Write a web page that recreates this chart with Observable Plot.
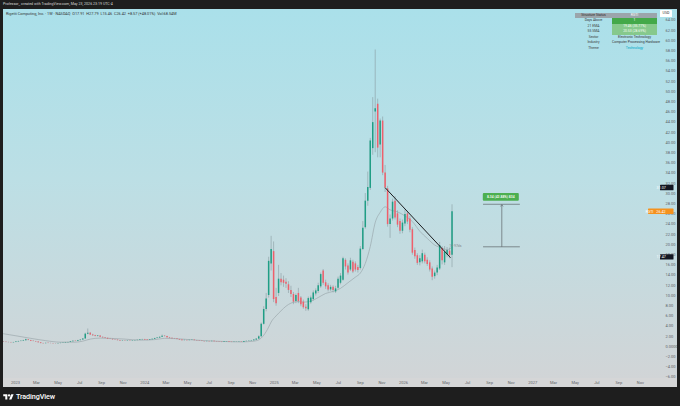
<!DOCTYPE html>
<html><head><meta charset="utf-8">
<script src="https://cdn.jsdelivr.net/npm/d3@7"></script>
<script src="https://cdn.jsdelivr.net/npm/@observablehq/plot@0.6"></script>
<style>
html,body{margin:0;padding:0;}
body{width:680px;height:406px;overflow:hidden;background:#1e1e1e;position:relative;font-family:Roboto,"DejaVu Sans",sans-serif;}
#banner{position:absolute;left:3px;top:1.6px;font-size:3.6px;line-height:4px;color:#d9d9d9;white-space:nowrap;}
#pane{position:absolute;left:3px;top:9px;width:674px;height:378px;background:linear-gradient(to bottom,#aae0ea 0%,#bcdfe5 45%,#d2d4d6 100%);overflow:hidden;}
#xstrip{position:absolute;left:0;top:369px;width:674px;height:9px;background:#d5d6d7;}
#plot{position:absolute;left:0;top:0;}
#title{position:absolute;left:3px;top:3px;font-size:3.8px;line-height:4px;color:#333;white-space:nowrap;}
#usd{position:absolute;left:657px;top:1.2px;width:12px;height:6.5px;background:#fff;color:#333;font-size:3.6px;line-height:6.5px;text-align:center;border-radius:0.6px;}
#table{position:absolute;left:572px;top:3.8px;width:82px;font-size:3.4px;}
#table .row{display:flex;height:5.5px;line-height:5.5px;}
#table .l{width:37px;text-align:center;color:#3a3a3a;}
#table .r{width:45px;text-align:center;color:#333;white-space:nowrap;}
#logo{position:absolute;left:3px;top:392px;height:8px;display:flex;align-items:center;color:#fff;font-size:7.2px;font-weight:500;letter-spacing:-0.1px;}
</style></head>
<body>
<div id="banner">Professor_ created with TradingView.com, May 23, 2026 23:19 UTC-4</div>
<div id="pane">
  <div id="xstrip"></div>
  <div id="plot"></div>
  <div id="title">Rigetti Computing, Inc. · 1W · NASDAQ &nbsp;O17.91 &nbsp;H27.79 &nbsp;L15.46 &nbsp;C26.42 &nbsp;+8.57 (+48.01%) &nbsp;Vol:68.54M</div>
  <div id="usd">USD</div>
  <div id="table"></div>
</div>
<div id="logo"><svg width="11" height="7" viewBox="0 0 36 24" style="margin-right:2px"><path d="M14 22H7V11H0V4h14v18z" fill="#fff"/><path d="M28 22h-8l7.5-18h8L28 22z" fill="#fff"/><circle cx="20" cy="8" r="4" fill="#fff"/></svg>TradingView</div>
<script>
// ---- Weekly RGTI candles (week index 0 = 2022-11-28) ----
const opens = [0.90,0.82,0.79,0.76,0.72,0.78,0.90,0.98,1.05,1.15,1.30,1.18,1.05,0.96,0.88,0.72,0.58,0.55,0.62,0.60,
0.57,0.54,0.52,0.57,0.62,0.68,0.75,0.80,0.92,1.05,0.99,1.15,1.26,1.48,2.42,2.62,2.25,2.10,1.95,2.06,
1.80,1.70,1.60,1.45,1.40,1.30,1.25,1.15,1.05,1.10,1.04,1.10,1.05,1.11,1.16,1.21,1.31,1.36,1.25,1.20,
1.30,1.40,1.55,1.65,1.80,2.02,1.95,1.70,1.60,1.50,1.46,1.35,1.25,1.15,1.20,1.15,1.21,1.25,1.15,1.10,
1.05,1.00,0.95,1.00,0.95,1.01,0.95,0.90,0.85,0.80,0.86,0.91,0.85,0.80,0.83,0.86,0.91,0.85,0.96,1.01,
1.06,1.12,1.26,1.45,1.90,4.35,7.25,10.00,16.20,18.60,9.60,10.40,13.20,13.00,12.60,12.10,11.00,10.20,8.80,10.40,
9.50,8.70,7.70,7.20,8.60,9.20,10.30,10.80,11.70,14.80,12.50,11.90,11.10,11.60,10.70,11.40,12.40,13.00,16.90,15.80,
15.00,16.50,16.20,15.50,15.30,19.00,23.30,28.50,31.00,38.80,46.00,47.50,39.50,44.20,34.00,30.90,23.90,25.00,28.50,26.00,
24.50,22.60,24.00,26.00,25.00,22.90,18.80,17.80,16.40,16.60,17.90,16.90,16.40,15.20,13.70,14.40,15.20,19.20,16.40,18.00,
18.70,17.91];
const highs = [0.98,0.88,0.86,0.80,0.82,0.95,1.05,1.12,1.22,1.45,1.38,1.22,1.10,1.00,0.90,0.75,0.64,0.66,0.68,0.63,
0.60,0.58,0.60,0.65,0.72,0.80,0.85,0.98,1.12,1.10,1.20,1.32,1.55,2.60,3.43,2.75,2.40,2.20,2.15,2.10,
1.86,1.76,1.63,1.52,1.45,1.36,1.28,1.18,1.16,1.14,1.15,1.13,1.15,1.20,1.25,1.36,1.42,1.40,1.30,1.35,
1.45,1.62,1.72,1.88,2.25,2.12,2.00,1.78,1.65,1.58,1.50,1.40,1.28,1.25,1.24,1.26,1.30,1.28,1.18,1.13,
1.08,1.03,1.05,1.03,1.06,1.04,0.98,0.93,0.88,0.90,0.95,0.94,0.88,0.86,0.90,0.95,0.94,1.00,1.06,1.12,
1.18,1.32,1.52,2.10,4.60,7.80,10.40,17.50,21.60,20.50,11.40,15.90,14.30,13.80,13.30,12.70,11.80,10.60,10.30,11.40,
9.80,9.10,8.20,9.70,9.90,10.90,11.30,12.40,14.40,15.10,13.00,12.30,12.00,11.90,11.80,13.60,14.30,17.50,17.20,16.20,
17.30,16.90,16.60,15.90,19.60,24.50,30.00,34.20,40.80,48.80,58.15,48.50,44.60,45.00,35.50,31.40,25.80,28.90,29.40,26.60,
25.00,24.80,26.80,26.50,25.50,23.30,19.30,18.20,17.80,18.90,18.30,17.40,16.80,15.60,14.80,15.90,20.40,19.60,19.60,19.40,
19.30,27.79];
const lows = [0.78,0.74,0.72,0.68,0.70,0.75,0.86,0.92,1.00,1.10,1.12,1.00,0.92,0.85,0.68,0.52,0.50,0.53,0.56,0.54,
0.51,0.48,0.50,0.55,0.60,0.66,0.72,0.78,0.90,0.95,0.97,1.10,1.22,1.45,2.30,2.15,2.00,1.88,1.90,1.75,
1.62,1.55,1.40,1.35,1.25,1.20,1.10,1.00,1.00,1.00,1.02,1.00,1.03,1.07,1.12,1.18,1.26,1.20,1.14,1.17,
1.26,1.36,1.50,1.60,1.76,1.88,1.65,1.55,1.45,1.40,1.30,1.20,1.10,1.12,1.10,1.12,1.17,1.12,1.05,1.00,
0.96,0.90,0.93,0.90,0.93,0.92,0.86,0.80,0.75,0.78,0.84,0.82,0.76,0.77,0.80,0.84,0.82,0.83,0.92,0.98,
1.02,1.08,1.20,1.40,1.85,4.20,6.80,9.50,14.80,8.60,7.90,9.80,11.90,11.60,11.40,10.40,9.60,8.20,8.40,8.40,
7.80,7.30,6.90,6.90,8.30,8.90,9.90,10.40,11.40,12.00,11.20,10.70,10.80,10.50,10.40,11.20,12.10,12.80,15.00,14.00,
14.70,14.30,14.60,14.40,15.00,18.80,23.00,27.50,30.60,37.50,38.00,37.00,37.00,33.50,30.20,23.40,21.20,24.60,24.80,23.30,
22.00,22.10,23.50,23.90,22.30,17.90,17.10,15.90,15.80,16.20,16.20,15.70,14.60,12.90,13.20,13.90,14.90,16.00,15.90,17.40,
17.20,15.46];
const closes = [0.82,0.78,0.76,0.72,0.78,0.90,0.98,1.05,1.15,1.30,1.18,1.05,0.96,0.88,0.72,0.58,0.55,0.62,0.60,0.57,
0.54,0.52,0.57,0.62,0.68,0.75,0.80,0.92,1.05,0.99,1.15,1.26,1.48,2.42,2.62,2.25,2.10,1.95,2.06,1.80,
1.70,1.60,1.45,1.40,1.30,1.25,1.15,1.05,1.10,1.04,1.10,1.05,1.11,1.16,1.21,1.31,1.36,1.25,1.20,1.30,
1.40,1.55,1.65,1.80,2.02,1.95,1.70,1.60,1.50,1.46,1.35,1.25,1.15,1.20,1.15,1.21,1.25,1.15,1.10,1.05,
1.00,0.95,1.00,0.95,1.01,0.95,0.90,0.85,0.80,0.86,0.91,0.85,0.80,0.83,0.86,0.91,0.85,0.96,1.01,1.06,
1.12,1.26,1.45,1.90,4.35,7.25,9.30,16.70,19.00,9.20,8.40,13.20,12.50,12.40,12.20,11.00,10.20,8.70,10.00,8.80,
8.20,7.60,7.40,9.40,9.50,10.50,10.90,11.90,14.10,12.40,11.70,11.10,11.60,11.00,11.30,13.20,13.80,17.20,15.60,14.40,
16.80,14.60,15.00,14.90,19.10,23.20,28.50,31.20,40.30,43.90,46.60,38.90,44.20,34.00,31.10,23.90,25.00,28.30,25.20,23.80,
22.60,24.20,25.90,24.40,22.80,18.30,17.60,16.30,17.20,18.20,16.60,16.10,15.00,13.60,14.40,15.40,19.80,16.80,18.50,18.80,
17.85,26.42];

// 21-week EMA (at selected weeks)
const maWeek  = [0,5,11,17,23,29,32,35,39,43,49,55,61,65,69,75,81,88,96,101,103,105,107,108,110,112,114,116,119,121,124,127,130,133,136,139,142,144,146,148,150,152,154,156,159,162,165,168,171,174,177,179,181];
const maValue = [2.5,2.1,1.6,1.15,0.85,0.85,1.05,1.45,1.65,1.6,1.45,1.25,1.35,1.6,1.55,1.35,1.15,1.0,0.9,1.05,1.3,2.2,3.8,4.8,6.0,7.0,7.9,8.5,8.8,8.7,8.9,9.6,10.4,10.8,11.4,12.5,13.6,14.4,16.3,19.6,24.3,26.3,27.4,26.8,26.4,25.6,24.5,22.6,21.2,19.9,19.3,19.0,19.46];

// Trend line drawn on the chart
const trendDates  = ["2025-11-11","2026-05-13"];
const trendPrices = [31.07, 17.47];

// Measure annotation
const measureDates  = ["2026-08-15","2026-10-07","2026-11-27"];
const measurePrices = [27.79, 19.45];
const measureLabel  = "8.34 (42.88%) 834";
const noteDate = "2026-05-29", notePrice = 19.7, noteText = "1+ 97ds";

// Axis price tags
const tagLabels = ["31.07","RGTI","17.47"];
const tagValues = [31.07, 26.42, 17.47];
const tagTexts  = ["31.07","26.42","17.47"];

// Table
const tableLabels = ["Structure Status","Days Above","21 EMA","55 SMA","Sector","Industry","Theme"];
const tableValues = ["RGTI","1","19.46 (35.77%)","20.53 (28.69%)","Electronic Technology","Computer Processing Hardware","Technology"];

const yTicks = d3.range(-6, 65, 2);

const UP = "#1f9e85", DOWN = "#ef5f6b";
const weekStart = Date.UTC(2022, 10, 28);
const candles = closes.map((c, i) => ({
  date: new Date(weekStart + i * 7 * 864e5),
  open: opens[i], high: highs[i], low: lows[i], close: c
}));
const ma = maWeek.map((w, i) => ({date: new Date(weekStart + w * 7 * 864e5), value: maValue[i]}));
const trend = trendDates.map((d, i) => ({date: new Date(d), price: trendPrices[i]}));

const xStart = new Date(Date.UTC(2022, 10, 28));
const xEnd = new Date(Date.UTC(2027, 11, 19, 10));
const xTicks = d3.utcMonth.every(2).range(new Date(Date.UTC(2023,0,1)), new Date(Date.UTC(2027,11,2)));
const fmtX = d => d.getUTCMonth() === 0 ? String(d.getUTCFullYear()) : d3.utcFormat("%b")(d);
const fmtY = v => v === 0 ? "0.0000" : (v < 0 ? "\u2212" + (-v).toFixed(2) : v.toFixed(2));

function measureMark(index, scales) {
  const x = scales.x, y = scales.y;
  const g = d3.create("svg:g");
  const xa = x(new Date(measureDates[0])), xm = x(new Date(measureDates[1])), xb = x(new Date(measureDates[2]));
  const yt = y(measurePrices[0]), yb = y(measurePrices[1]);
  const ln = (x1,y1,x2,y2) => g.append("line").attr("x1",x1).attr("y1",y1).attr("x2",x2).attr("y2",y2)
      .attr("stroke","#5f6569").attr("stroke-width",0.7);
  ln(xa, yt, xb, yt); ln(xa, yb, xb, yb); ln(xm, yb, xm, yt + 0.5);
  g.append("path").attr("d", `M${xm-1.3},${yt+2.2}L${xm},${yt+0.3}L${xm+1.3},${yt+2.2}`)
   .attr("fill","none").attr("stroke","#5f6569").attr("stroke-width",0.6);
  g.append("rect").attr("x", xm - 19).attr("y", yt - 11.2).attr("width", 36).attr("height", 7.6)
   .attr("rx", 1).attr("fill", "#4caf50");
  g.append("text").attr("x", xm - 1).attr("y", yt - 7.4).attr("dy","0.35em").attr("text-anchor","middle")
   .attr("font-size", 3.4).attr("fill","#fff").attr("font-weight",500).text(measureLabel);
  g.append("text").attr("x", x(new Date(noteDate))).attr("y", y(notePrice)).attr("dy","0.35em")
   .attr("font-size", 3.4).attr("fill","#7d8589").text(noteText);
  return g.node();
}

function tagMark(index, scales, values, dims) {
  const y = scales.y;
  const x0 = dims.width - dims.marginRight;
  const g = d3.create("svg:g").attr("font-size", 3.7);
  tagValues.forEach((v, i) => {
    const yy = y(v);
    if (tagLabels[i] === "RGTI") {
      g.append("rect").attr("x", x0 - 9).attr("y", yy - 2.7).attr("width", 25.5).attr("height", 5.4).attr("rx",0.6).attr("fill", "#f5921e");
      g.append("text").attr("x", x0 - 7.6).attr("y", yy).attr("dy","0.35em").attr("fill","#fff").text(tagLabels[i]);
      g.append("text").attr("x", x0 + 4).attr("y", yy).attr("dy","0.35em").attr("fill","#fff").text(tagTexts[i]);
    } else {
      g.append("rect").attr("x", x0 + 3).attr("y", yy - 2.7).attr("width", 13.5).attr("height", 5.4).attr("rx",0.6).attr("fill", "#131722");
      g.append("text").attr("x", x0 + 4.2).attr("y", yy).attr("dy","0.35em").attr("fill","#fff").text(tagTexts[i]);
    }
  });
  return g.node();
}

const chart = Plot.plot({
  width: 674, height: 378,
  marginLeft: 0, marginRight: 20, marginTop: 0, marginBottom: 9,
  style: {background: "transparent", fontFamily: "Roboto, sans-serif", fontSize: "4px", overflow: "visible"},
  x: {type: "utc", domain: [xStart, xEnd]},
  y: {domain: [-6.275, 66.08]},
  marks: [
    Plot.axisX({ticks: xTicks, tickSize: 0, tickPadding: 3, tickFormat: fmtX, fontSize: 4, color: "#5f6468"}),
    Plot.axisY({anchor: "right", ticks: yTicks, tickSize: 0, tickPadding: 8, tickFormat: fmtY, fontSize: 4, color: "#5f6468"}),
    Plot.line(ma, {x: "date", y: "value", stroke: "#93a0a5", strokeWidth: 0.6, curve: "monotone-x"}),
    Plot.ruleX(candles, {x: "date", y1: "low", y2: "high", stroke: "#8a9ca1", strokeWidth: 0.6}),
    Plot.ruleX(candles.filter(d => d.close >= d.open), {x: "date", y1: "open", y2: "close", stroke: UP, strokeWidth: 1.5}),
    Plot.ruleX(candles.filter(d => d.close < d.open), {x: "date", y1: "open", y2: "close", stroke: DOWN, strokeWidth: 1.5}),
    Plot.line(trend, {x: "date", y: "price", stroke: "#1b1d1f", strokeWidth: 1}),
    measureMark,
    tagMark
  ]
});
document.getElementById("plot").appendChild(chart);

// table
const tbl = document.getElementById("table");
tableLabels.forEach((lab, i) => {
  const row = document.createElement("div"); row.className = "row";
  const l = document.createElement("div"); l.className = "l"; l.textContent = lab;
  const r = document.createElement("div"); r.className = "r"; r.textContent = tableValues[i];
  if (i === 0) { l.style.background = "#9ba5ab"; r.style.background = "#9ba5ab"; l.style.color = "#2b2b2b"; r.style.color = "#fff"; }
  if (i === 1) { r.style.background = "#43a949"; r.style.color = "#fff"; }
  if (i === 2 || i === 3) { r.style.background = "#86c98c"; r.style.color = "#f5fff5"; }
  if (i === 6) { r.style.color = "#00a9c8"; }
  row.appendChild(l); row.appendChild(r); tbl.appendChild(row);
});
</script>
</body></html>
